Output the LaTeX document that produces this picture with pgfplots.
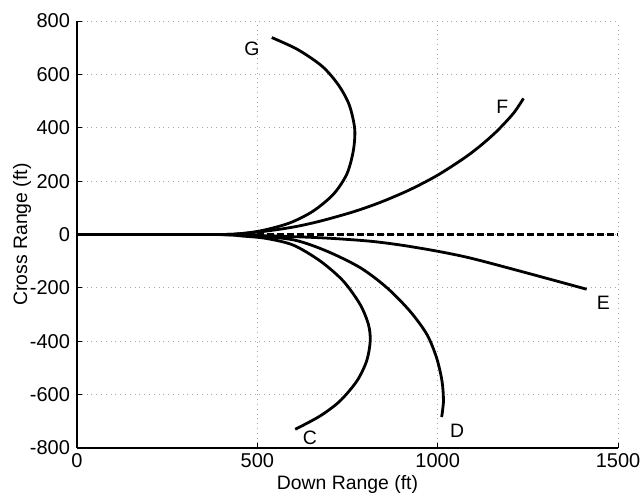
\documentclass[border=0pt]{standalone}
\usepackage{fontspec}
\setmainfont{Liberation Sans}
\usepackage{pgfplots}
\pgfplotsset{compat=1.18}

\begin{document}
\begin{tikzpicture}
\begin{axis}[
  scale only axis,
  width=270.5pt, height=213.5pt,
  xmin=0, xmax=1500, ymin=-800, ymax=800,
  xtick={0,500,1000,1500},
  ytick={-800,-600,-400,-200,0,200,400,600,800},
  axis x line*=bottom, axis y line*=left,
  axis line style={black, line width=0.6pt, -},
  tick align=inside,
  major tick length=2.5pt,
  tick style={black, line width=0.4pt},
  grid=major,
  grid style={gray!70, dotted, line width=0.4pt},
  /pgf/number format/assume math mode=true,
  /pgf/number format/1000 sep={},
  tick label style={font=\fontsize{10}{12}\selectfont},
  xticklabel style={yshift=1pt},
  label style={font=\fontsize{9.7}{12}\selectfont},
  xlabel={Down Range (ft)},
  ylabel={Cross Range (ft)},
  xlabel style={yshift=3pt},
  ylabel style={yshift=-7.5pt},
  clip=false,
]
% reference (dashed)
\addplot[black, line width=1.1pt, dash pattern=on 3.5pt off 1.5pt] coordinates {(0,0) (1500,0)};
% G
\addplot[black, line width=1.4pt, smooth] coordinates {
  (0,0) (380,0) (452,3) (517,16) (591,44) (655,88) (711,151) (748,226)
  (766,313) (770,395) (755,485) (725,560) (680,630) (612,693) (540,738)};
% F
\addplot[black, line width=1.4pt, smooth] coordinates {
  (0,0) (380,0) (450,3) (520,12) (600,28) (674,50) (766,85) (840,120)
  (920,166) (997,220) (1071,284) (1118,332) (1164,387) (1210,454) (1238,510)};
% E
\addplot[black, line width=1.4pt, smooth] coordinates {
  (0,0) (380,0) (500,-4) (600,-8) (700,-14) (812,-25) (900,-40) (997,-62)
  (1090,-88) (1228,-137) (1413,-205)};
% D
\addplot[black, line width=1.4pt, smooth] coordinates {
  (0,0) (380,0) (480,-4) (600,-20) (692,-62) (785,-124) (859,-199)
  (923,-287) (970,-374) (997,-462) (1012,-549) (1016,-624) (1011,-684)};
% C
\addplot[black, line width=1.4pt, smooth] coordinates {
  (0,0) (380,0) (460,-6) (526,-15) (600,-40) (674,-99) (738,-174) (785,-262)
  (808,-337) (813,-399) (803,-474) (776,-549) (729,-624) (674,-680) (605,-730)};
\node[font=\fontsize{9.7}{12}\selectfont] at (axis cs:485,695) {G};
\node[font=\fontsize{9.7}{12}\selectfont] at (axis cs:1179,478) {F};
\node[font=\fontsize{9.7}{12}\selectfont] at (axis cs:1459,-257) {E};
\node[font=\fontsize{9.7}{12}\selectfont] at (axis cs:1054,-737) {D};
\node[font=\fontsize{9.7}{12}\selectfont] at (axis cs:646,-763) {C};
\end{axis}
\pgfresetboundingbox
\path (-38.5pt,-23.5pt) rectangle (282pt,224pt);
\end{tikzpicture}
\end{document}
